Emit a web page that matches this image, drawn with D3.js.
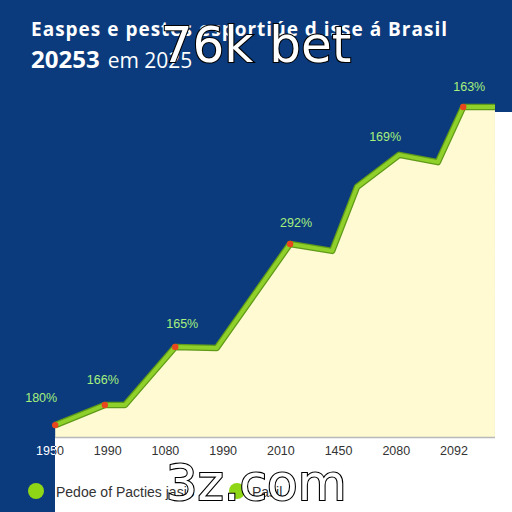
<!DOCTYPE html>
<html>
<head>
<meta charset="utf-8">
<script src="https://cdn.jsdelivr.net/npm/d3@7"></script>
<style>
  html, body { margin: 0; padding: 0; background: #ffffff; }
  svg { display: block; }
</style>
</head>
<body>
<div id="chart"></div>
<script>
// tick labels along the bottom (as printed)
var tickLabels = ["1950", "1990", "1080", "1990", "2010", "1450", "2080", "2092"];
// line vertices: position on tick index scale, and value
var seriesX = [0.09, 0.95, 1.30, 2.17, 2.89, 4.16, 4.89, 5.32, 6.05, 6.72, 7.16, 7.71];
var seriesY = [3.6, 9.7, 9.7, 27.3, 27.0, 58.5, 56.4, 75.8, 85.5, 83.3, 100, 100];
// points with a red marker
var markerIdx = [0, 1, 3, 5, 10];
// value labels and the vertex they belong to
var labelIdx = [0, 1, 3, 5, 8, 10];
var labelText = ["180%", "166%", "165%", "292%", "169%", "163%"];
var legendNames = ["Pedoe of Pacties jasio", "Pasil"];

var W = 512, H = 512;
var svg = d3.select("#chart").append("svg")
    .attr("width", W).attr("height", H);

var blue = "#0b3b7d";
var panelLeft = 55;

svg.append("rect").attr("width", W).attr("height", H).attr("fill", blue);

var x = d3.scaleLinear().domain([0, 7]).range([50, 454]);
var y = d3.scaleLinear().domain([0, 100]).range([437, 107]);

//white panel below the axis and to the right of the plot
svg.append("rect").attr("x", panelLeft).attr("y", 437).attr("width", W - panelLeft).attr("height", H - 437).attr("fill", "#ffffff");
svg.append("rect").attr("x", 495).attr("y", 112).attr("width", W - 495).attr("height", 330).attr("fill", "#ffffff");

var defs = svg.append("defs");
defs.append("clipPath").attr("id", "onBlue")
    .append("rect").attr("x", 0).attr("y", 0).attr("width", panelLeft).attr("height", H);
defs.append("clipPath").attr("id", "onWhite")
    .append("rect").attr("x", panelLeft).attr("y", 0).attr("width", W - panelLeft).attr("height", H);

var pts = seriesX.map(function (d, i) { return [d, seriesY[i]]; });

var area = d3.area()
    .x(function (d) { return x(d[0]); })
    .y0(y(0))
    .y1(function (d) { return y(d[1]); });

svg.append("path").datum(pts)
    .attr("d", area)
    .attr("fill", "#fffad2");

//axis baseline
svg.append("line")
    .attr("x1", panelLeft).attr("x2", 495)
    .attr("y1", y(0) + 0.5).attr("y2", y(0) + 0.5)
    .attr("stroke", "#b8b8b8").attr("stroke-width", 1.5);

var line = d3.line()
    .x(function (d) { return x(d[0]); })
    .y(function (d) { return y(d[1]); });

svg.append("path").datum(pts)
    .attr("d", line)
    .attr("fill", "none")
    .attr("stroke", "#5f9a18")
    .attr("stroke-width", 6.5)
    .attr("stroke-linejoin", "round");
svg.append("path").datum(pts)
    .attr("d", line)
    .attr("fill", "none")
    .attr("stroke", "#8fd02a")
    .attr("stroke-width", 4)
    .attr("stroke-linejoin", "round");

svg.selectAll("circle.marker")
    .data(markerIdx)
    .enter().append("circle")
    .attr("class", "marker")
    .attr("cx", function (i) { return x(seriesX[i]); })
    .attr("cy", function (i) { return y(seriesY[i]); })
    .attr("r", 3.2)
    .attr("fill", "#e8461c");

//value labels, nudged off their vertex
var labelDx = [-14, -2, 7, 6, -14, 6];
var labelDy = [-23, -21, -19, -17, -14, -16];
svg.selectAll("text.val")
    .data(labelIdx)
    .enter().append("text")
    .attr("class", "val")
    .attr("x", function (i, k) { return x(seriesX[i]) + labelDx[k]; })
    .attr("y", function (i, k) { return y(seriesY[i]) + labelDy[k]; })
    .attr("text-anchor", "middle")
    .attr("font-family", "Liberation Sans, Arial, sans-serif")
    .attr("font-size", 12.5)
    .attr("fill", "#a6f07c")
    .text(function (i, k) { return labelText[k]; });

//tick labels: white where they sit on the blue strip, dark on the white panel
function drawTicks(clipId, colour) {
    svg.append("g").attr("clip-path", "url(#" + clipId + ")")
        .selectAll("text")
        .data(tickLabels)
        .enter().append("text")
        .attr("x", function (d, i) { return x(i); })
        .attr("y", 455)
        .attr("text-anchor", "middle")
        .attr("font-family", "Liberation Sans, Arial, sans-serif")
        .attr("font-size", 12.5)
        .attr("fill", colour)
        .text(function (d) { return d; });
}
drawTicks("onBlue", "#ffffff");
drawTicks("onWhite", "#333333");

//title
svg.append("text")
    .attr("x", 31).attr("y", 36)
    .attr("font-family", "Open Sans, Noto Sans, sans-serif")
    .attr("font-weight", "bold")
    .attr("font-size", 19)
    .attr("fill", "#ffffff")
    .attr("textLength", 416)
    .text("Easpes e pestes esportiúe d isse á Brasil");

var t2 = svg.append("text")
    .attr("x", 31).attr("y", 68)
    .attr("font-family", "Open Sans, Noto Sans, sans-serif")
    .attr("fill", "#ffffff");
t2.append("tspan").attr("font-weight", "bold").attr("font-size", 24).text("20253");
t2.append("tspan").attr("font-size", 21).attr("dx", 8).text("em 2025");

//legend
var legX = [36, 237];
var legTextX = [56, 252];
svg.selectAll("circle.leg")
    .data(legendNames)
    .enter().append("circle")
    .attr("class", "leg")
    .attr("cx", function (d, i) { return legX[i]; })
    .attr("cy", 491)
    .attr("r", 8)
    .attr("fill", "#8fd616");
svg.selectAll("text.leg")
    .data(legendNames)
    .enter().append("text")
    .attr("class", "leg")
    .attr("x", function (d, i) { return legTextX[i]; })
    .attr("y", 497)
    .attr("font-family", "Liberation Sans, Arial, sans-serif")
    .attr("font-size", 14)
    .attr("fill", "#333333")
    .text(function (d) { return d; });

//overlaid watermark texts
var marks = [["76k bet", 256, 62], ["3z.com", 256, 500]];
svg.selectAll("text.wm")
    .data(marks)
    .enter().append("text")
    .attr("class", "wm")
    .attr("x", function (d) { return d[1]; })
    .attr("y", function (d) { return d[2]; })
    .attr("text-anchor", "middle")
    .attr("font-family", "DejaVu Sans, sans-serif")
    .attr("font-size", 50)
    .attr("fill", "#ffffff")
    .attr("stroke", "#000000")
    .attr("stroke-width", 2.2)
    .attr("paint-order", "stroke")
    .text(function (d) { return d[0]; });
</script>
</body>
</html>
